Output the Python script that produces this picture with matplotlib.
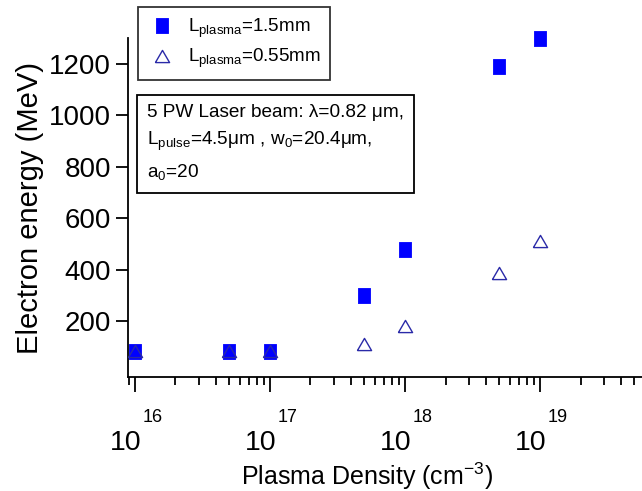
import numpy as np
import matplotlib
matplotlib.use('Agg')
import matplotlib.pyplot as plt
import matplotlib.transforms as mtransforms
from matplotlib.ticker import LogLocator, NullFormatter

plt.rcParams.update({
    'font.family': 'Liberation Sans',
    'mathtext.fontset': 'custom',
    'mathtext.rm': 'Liberation Sans',
    'mathtext.it': 'Liberation Sans:italic',
    'mathtext.default': 'regular',
})

# data
density = [1e16, 5e16, 1e17, 5e17, 1e18, 5e18, 1e19]
energy_long = [85, 85, 85, 303, 480, 1190, 1300]      # L_plasma = 1.5 mm
energy_short = [85, 85, 85, 110, 180, 388, 510]       # L_plasma = 0.55 mm

yticks = [200, 400, 600, 800, 1000, 1200]

# markers are slightly stretched in the original
tall_square = [(-0.4, -0.5), (0.4, -0.5), (0.4, 0.5), (-0.4, 0.5), (-0.4, -0.5)]
flat_triangle = [(-0.5, -0.43), (0.5, -0.43), (0, 0.43), (-0.5, -0.43)]

fig = plt.figure(figsize=(6.42, 4.91), dpi=100)
ax = fig.add_axes([0.199, 0.232, 0.801, 0.691])

ax.plot(density, energy_long, linestyle='none', marker=tall_square,
        color='#0000FF', markersize=10.8, markeredgewidth=0.6,
        label=r'L$_{plasma}$=1.5mm', zorder=3, clip_on=False)
ax.plot(density, energy_short, linestyle='none', marker=flat_triangle,
        color='#2A2AA8', markersize=10.2, markerfacecolor='none',
        markeredgewidth=1.0, label=r'L$_{plasma}$=0.55mm', zorder=4,
        clip_on=False)

ax.set_xscale('log')
ax.set_xlim(8.87e15, 5.7e19)
ax.set_ylim(-17, 1300)
ax.set_yticks(yticks)

ax.xaxis.set_major_locator(LogLocator(base=10, numticks=10))
ax.xaxis.set_minor_locator(LogLocator(base=10, subs=np.arange(2, 10), numticks=10))
ax.xaxis.set_minor_formatter(NullFormatter())
ax.xaxis.set_major_formatter(NullFormatter())

for side in ['top', 'right']:
    ax.spines[side].set_visible(False)
for side in ['left', 'bottom']:
    ax.spines[side].set_linewidth(1.3)

ax.tick_params(axis='x', which='major', direction='out', length=11, width=1.3)
ax.tick_params(axis='x', which='minor', direction='out', length=6, width=1.3)
ax.tick_params(axis='y', which='major', direction='out', length=9, width=1.3,
               labelsize=20, pad=3)

# Igor-style decade labels: "10" with a raised exponent (offsets in pixels)
blend = mtransforms.blended_transform_factory(ax.transData, ax.transAxes)
lo, hi = ax.get_xlim()
for v in ax.get_xticks():
    if not (lo <= v <= hi):
        continue
    exp = int(round(np.log10(v)))
    t_base = mtransforms.offset_copy(blend, fig=fig, x=7, y=-73, units='dots')
    ax.text(v, 0, '10', transform=t_base, ha='right', va='baseline',
            fontsize=20.5, clip_on=False)
    t_exp = mtransforms.offset_copy(blend, fig=fig, x=8, y=-45, units='dots')
    ax.text(v, 0, str(exp), transform=t_exp, ha='left', va='baseline',
            fontsize=13, clip_on=False)

ax.set_xlabel(r'Plasma Density (cm$^{-3}$)', fontsize=18)
ax.xaxis.set_label_coords(0.466, -0.245)
ax.set_ylabel('Electron energy (MeV)', fontsize=21)
ax.yaxis.set_label_coords(-0.163, 0.4985)

leg = ax.legend(loc='upper left', bbox_to_anchor=(138 / 642, 1 - 7 / 491),
                bbox_transform=fig.transFigure, fontsize=13.5, frameon=True,
                fancybox=False, borderaxespad=0, handletextpad=0.55,
                borderpad=0.5, labelspacing=0.4, handlelength=1.6)
leg.get_frame().set_edgecolor('black')
leg.get_frame().set_linewidth(1.3)

fig.text(147 / 642, 1 - 104 / 491,
         '5 PW Laser beam: λ=0.82 μm,\n'
         r'L$_{pulse}$=4.5μm , w$_0$=20.4μm,' '\n'
         r'a$_0$=20',
         fontsize=13.7, linespacing=1.6, va='top', ha='left',
         bbox=dict(boxstyle='square,pad=0.55', facecolor='white',
                   edgecolor='black', linewidth=1.3))

fig.savefig('out.png', dpi=100)
